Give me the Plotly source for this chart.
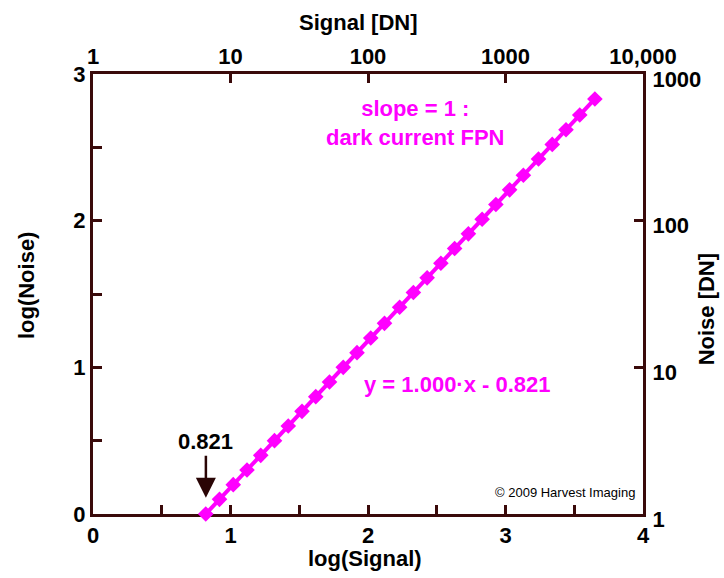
import plotly.graph_objects as go

# Data
log_signal = [0.82, 0.92, 1.02, 1.12, 1.22, 1.32, 1.42, 1.52, 1.62, 1.72, 1.82, 1.92, 2.02, 2.12,
              2.23, 2.33, 2.43, 2.53, 2.63, 2.73, 2.83, 2.93, 3.03, 3.13, 3.24, 3.34, 3.44, 3.54, 3.65]
log_noise = [0.00, 0.10, 0.20, 0.30, 0.40, 0.50, 0.60, 0.70, 0.80, 0.90, 1.00, 1.10, 1.20, 1.30,
             1.41, 1.51, 1.61, 1.71, 1.81, 1.91, 2.01, 2.11, 2.21, 2.31, 2.42, 2.52, 2.62, 2.72, 2.83]

x_tickvals = [0, 0.5, 1, 1.5, 2, 2.5, 3, 3.5, 4]
x_ticktext = ["0", "", "1", "", "2", "", "3", "", "4"]
y_tickvals = [0, 0.5, 1, 1.5, 2, 2.5, 3]
y_ticktext = ["0", "", "1", "", "2", "", "3"]
top_tickvals = [0, 1, 2, 3, 4]
top_ticktext = ["1", "10", "100", "1000", "10,000"]
right_tickvals = [0, 1, 2, 3]
right_ticktext = ["1", "10", "100", "1000"]

MAG = "#FF00FF"
AX = "#3A0A0A"
FONT = "Liberation Sans, Arial, sans-serif"
tickfont = dict(family=FONT, size=22, color="black", weight="bold")

fig = go.Figure()
fig.add_trace(go.Scatter(
    x=log_signal, y=log_noise, mode="lines+markers",
    line=dict(color=MAG, width=4),
    marker=dict(symbol="diamond", size=12, color=MAG),
    cliponaxis=False, showlegend=False, hoverinfo="skip"))
# invisible trace to activate secondary axes
fig.add_trace(go.Scatter(x=log_signal, y=log_noise, xaxis="x2", yaxis="y2",
                         mode="markers", marker=dict(opacity=0), showlegend=False,
                         hoverinfo="skip"))

common = dict(showline=True, linecolor=AX, linewidth=3, ticks="inside", ticklen=9,
              tickwidth=3, tickcolor=AX, showgrid=False, zeroline=False,
              tickfont=tickfont, layer="below traces", fixedrange=True)

fig.update_layout(
    width=724, height=578,
    margin=dict(l=93, r=81, t=74, b=64, autoexpand=False),
    plot_bgcolor="white", paper_bgcolor="white",
    xaxis=dict(range=[0, 4], tickmode="array", tickvals=x_tickvals, ticktext=x_ticktext,
               side="bottom", anchor="y", **common),
    yaxis=dict(range=[0, 3], tickmode="array", tickvals=y_tickvals, ticktext=y_ticktext,
               side="left", anchor="x", **common),
    xaxis2=dict(range=[0, 4], tickmode="array", tickvals=top_tickvals, ticktext=top_ticktext,
                side="top", overlaying="x", anchor="y", ticklabelstandoff=-2, **common),
    yaxis2=dict(range=[0, 3], tickmode="array", tickvals=right_tickvals, ticktext=right_ticktext,
                side="right", overlaying="y", anchor="x", ticklabelshift=5,
                ticklabelstandoff=2, **common),
)

def ann(text, x, y, size=22, color="black", angle=0, weight="bold"):
    fig.add_annotation(text=text, x=x, y=y, xref="paper", yref="paper", showarrow=False,
                       textangle=angle, xanchor="center", yanchor="middle",
                       font=dict(family=FONT, size=size, color=color, weight=weight))

ann("Signal [DN]", 0.482, 1.118)
ann("log(Signal)", 0.4945, -0.10)
ann("log(Noise)", -0.122, 0.52, angle=-90)
ann("Noise [DN]", 1.1145, 0.465, angle=-90)
ann("slope = 1 :<br>dark current FPN", 0.586, 0.888, color=MAG)
ann("y = 1.000·x - 0.821", 0.662, 0.295, color=MAG)
ann("© 2009 Harvest Imaging", 0.858, 0.048, size=13, weight="normal")

# arrow pointing to intercept 0.821
fig.add_annotation(x=0.821, y=0.11, xref="x", yref="y", ax=0, ay=-42,
                   text="0.821", showarrow=True, arrowhead=2, arrowsize=1.6,
                   arrowwidth=2.5, arrowcolor="#2A0505", yanchor="bottom",
                   font=dict(family=FONT, size=22, color="black", weight="bold"))

fig.write_html("out.html")
